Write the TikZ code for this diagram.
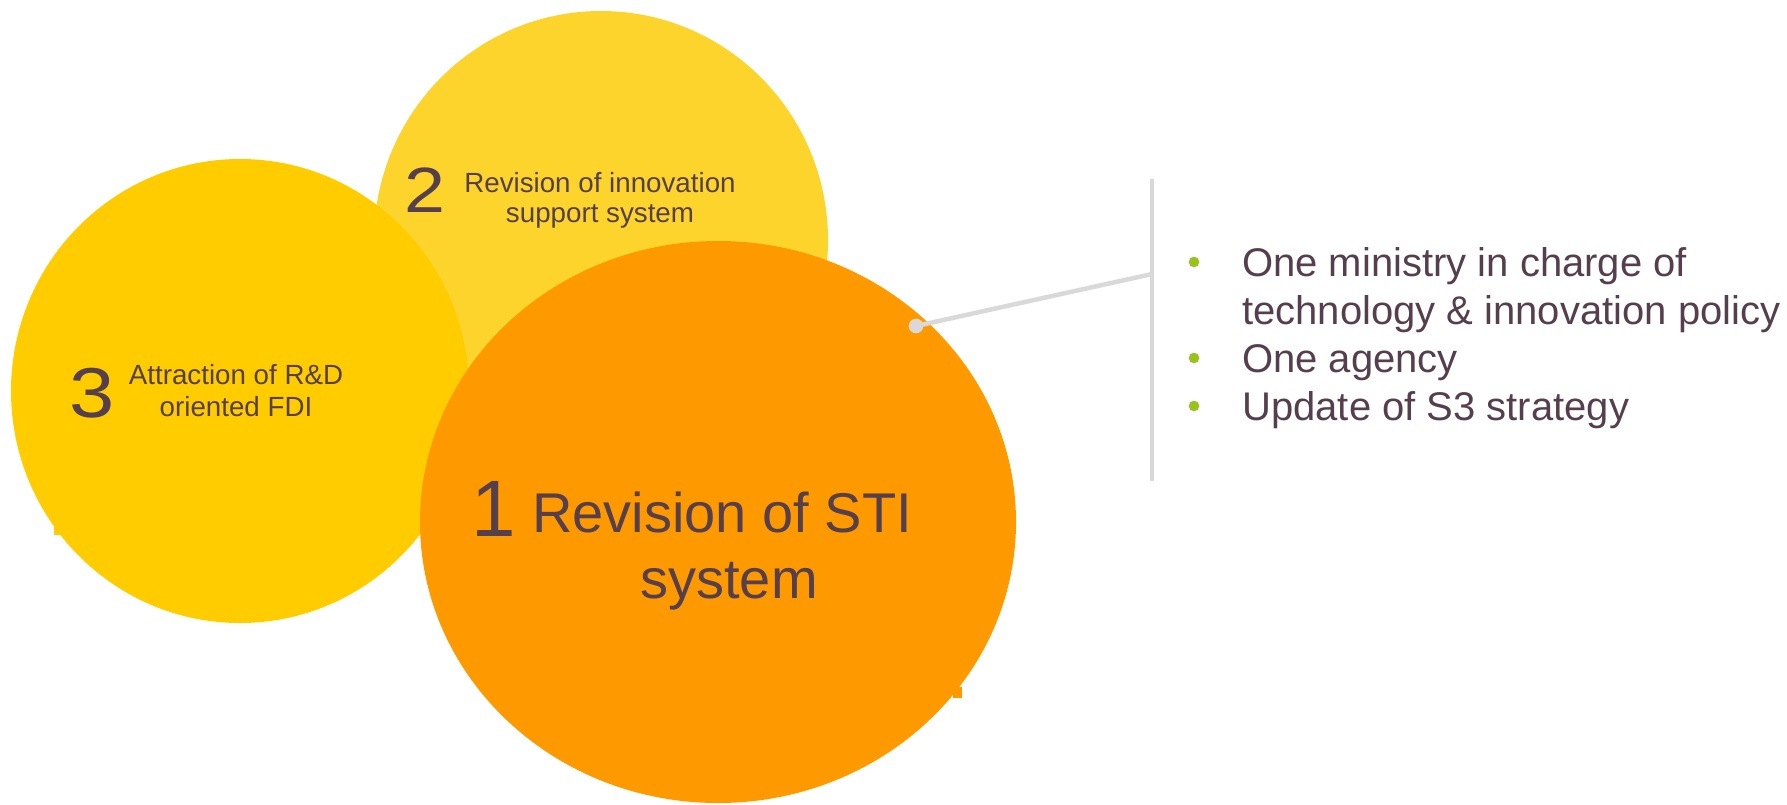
\documentclass[tikz,border=0pt]{standalone}
\usepackage{fontspec}
\setmainfont{Liberation Sans}
\usetikzlibrary{shapes.geometric}
\definecolor{ylight}{HTML}{FDD42B}
\definecolor{ymid}{HTML}{FFCC00}
\definecolor{orng}{HTML}{FF9900}
\definecolor{txt}{HTML}{563F4C}
\definecolor{grn}{HTML}{99C31C}
\definecolor{lgray}{HTML}{D9D9D9}
\tikzset{
  blob/.style={ellipse, inner sep=0pt, draw=none},
  lbl/.style={anchor=base, inner sep=0pt, text=txt},
  small/.style={lbl, align=center, font=\fontsize{20.8pt}{22.5pt}\selectfont},
  big/.style={lbl, align=center, font=\fontsize{42pt}{49pt}\selectfont},
  bullettxt/.style={anchor=base west, inner sep=0pt, text=txt, font=\fontsize{30pt}{36pt}\selectfont},
  digit/.style={lbl, transform shape, xscale=1.15},
  bdot/.style={circle, fill=grn, inner sep=0pt, minimum size=8pt},
  conn/.style={draw=lgray, line width=3.4pt}
}
\begin{document}
\begin{tikzpicture}[x=0.75pt,y=-0.75pt]
\useasboundingbox (0,0) rectangle (1787,804);
% circles
\node[blob, fill=ylight, minimum width=227*1.5pt, minimum height=229*1.5pt] (c2) at (601,240) {};
\node[blob, fill=ymid, minimum width=229*1.5pt, minimum height=232*1.5pt] (c3) at (240,391) {};
\fill[ymid] (54,523) rectangle (62,535);
\node[blob, fill=orng, minimum width=298*1.5pt, minimum height=281*1.5pt] (c1) at (718,522) {};
\fill[orng] (953,687) rectangle (962,698);
% circle 2 text
\node[digit, font=\fontsize{48pt}{52pt}\selectfont] (d2) at (425,212) {2};
\node[small] (t2) at (600,222) {Revision of innovation\\support system};
% circle 3 text
\node[digit, font=\fontsize{53pt}{57pt}\selectfont] (d3) at (92,417) {3};
\node[small, font=\fontsize{20.8pt}{24pt}\selectfont] (t3) at (236,416) {Attraction of R\&D\\oriented FDI};
% circle 1 text
\node[lbl, font=\fontsize{60pt}{64pt}\selectfont] (d1) at (494,536) {1};
\node[big] (t1) at (722,598) {Revision of STI\\\hspace*{10.5pt}system};
% connector
\coordinate (vtop) at (1152,179);
\coordinate (vbot) at (1152,481);
\coordinate (vmid) at (1152,274);
\draw[conn] (vtop) -- (vbot);
\node[ellipse, fill=lgray, inner sep=0pt, minimum width=11pt, minimum height=11pt] (dot) at (916,326) {};
\draw[conn] (dot.center) -- (vmid);
% bullets
\node[bdot] (b1) at (1194,262) {};
\node[bdot] (b2) at (1194,358) {};
\node[bdot] (b3) at (1194,406) {};
\node[bullettxt] (l1) at (1242,276) {One ministry in charge of};
\node[bullettxt] (l2) at (1242,324) {technology \& innovation policy};
\node[bullettxt] (l3) at (1242,372) {One agency};
\node[bullettxt] (l4) at (1242,420) {Update of S3 strategy};
\end{tikzpicture}
\end{document}
